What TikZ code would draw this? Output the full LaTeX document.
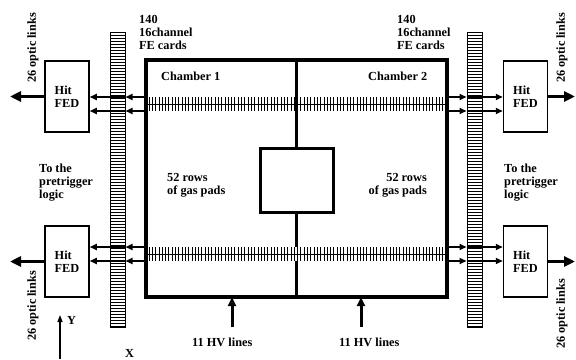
\documentclass[tikz,border=0pt]{standalone}
\usepackage{fontspec}
\setmainfont{Liberation Serif}
\usetikzlibrary{arrows.meta,positioning,calc}
\tikzset{
  lbl/.style={font=\fontsize{12.3}{13}\selectfont\bfseries, inner sep=0pt},
  fed/.style={draw, line width=1.5pt, minimum width=44pt, minimum height=71pt, lbl, align=left},
  fecard/.style={draw, line width=1pt, minimum width=15pt, minimum height=295pt, inner sep=0pt,
    path picture={\foreach \k in {1,...,98}
      \draw[line width=0.45pt] ([yshift=-\k*3pt]path picture bounding box.north west) -- ([yshift=-\k*3pt]path picture bounding box.north east);}},
  wall/.style={line width=4pt},
  link/.style={line width=1.6pt, -{Triangle[length=7pt,width=6pt]}},
  optic/.style={line width=3.5pt, -{Triangle[length=11pt,width=10pt]}},
  hv/.style={line width=3pt, -{Triangle[length=9pt,width=8pt]}},
  tick/.style={line width=0.7pt},
}
\begin{document}
\begin{tikzpicture}[x=1pt,y=-1pt]
\useasboundingbox (0,0) rectangle (576,359);
% chamber and pad plane
\node[draw, wall, minimum width=301pt, minimum height=237pt, inner sep=0pt] (ch) at (296.5,178.5) {};
\node[draw, line width=3pt, minimum width=73pt, minimum height=64pt, inner sep=0pt] (sq) at (296.5,180) {};
\coordinate (r1) at (0,97); \coordinate (r2) at (0,111);
\coordinate (r3) at (0,247); \coordinate (r4) at (0,261);
\foreach \y in {97,247}{
  \foreach \x in {149,152.3,...,446} \draw[tick] (\x,\y) -- (\x,\y+14);
  \draw[line width=1pt] (146,\y+7) -- (447,\y+7);
}
\draw[line width=3pt] (ch.north) -- (sq.north);
\draw[line width=3pt] (sq.south) -- (sq.south |- r3);
\draw[line width=3pt] (sq.south |- r4) -- (ch.south);
% front-end cards
\node[fecard] (cardL) at (117.5,179.5) {};
\node[fecard] (cardR) at (474.5,179.5) {};
% FEDs
\node[fed] (fedLU) at (67,96.5) {Hit\\FED};
\node[fed] (fedLD) at (67,261.5) {Hit\\FED};
\node[fed] (fedRU) at (525.5,96.5) {Hit\\FED};
\node[fed] (fedRD) at (525.5,261.5) {Hit\\FED};
\foreach \r/\fl/\fr in {r1/fedLU/fedRU, r2/fedLU/fedRU, r3/fedLD/fedRD, r4/fedLD/fedRD}{
  \draw[link] (ch.west |- \r) -- (cardL.east |- \r);
  \draw[link] (cardL.east |- \r) -- (\fl.east |- \r);
  \draw[link] (ch.east |- \r) -- (cardR.west |- \r);
  \draw[link] (cardR.west |- \r) -- (\fr.west |- \r);
}
% optic links
\coordinate (oLU) at (10,96.5); \coordinate (oLD) at (10,261.5);
\coordinate (oRU) at (575,96.5); \coordinate (oRD) at (575,261.5);
\draw[optic] (fedLU.west) -- (oLU);
\draw[optic] (fedLD.west) -- (oLD);
\draw[optic] (fedRU.east) -- (oRU);
\draw[optic] (fedRD.east) -- (oRD);
\foreach \x/\y/\n in {33/48/tLU, 33/306/tLD, 562/48/tRU, 562/314/tRD}
  \node[lbl, rotate=90] (\n) at (\x,\y) {26 optic links};
% HV lines
\coordinate (hv1) at (232,327); \coordinate (hv2) at (361,327);
\draw[hv] (hv1) -- ([yshift=2pt]hv1 |- ch.south);
\draw[hv] (hv2) -- ([yshift=2pt]hv2 |- ch.south);
\node[lbl, anchor=base west] (hvl1) at (192,346) {11 HV lines};
\node[lbl, anchor=base west] (hvl2) at (339,346) {11 HV lines};
% labels
\node[lbl, align=left, anchor=north west] (feL) at (139,15) {140\\16channel\\FE cards};
\node[lbl, align=left, anchor=north west] (feR) at (397,15) {140\\16channel\\FE cards};
\node[lbl, anchor=base west] (ch1) at (161,80) {Chamber 1};
\node[lbl, anchor=base west] (ch2) at (368,80) {Chamber 2};
\node[lbl, align=left, anchor=north west] (padL) at (167,173) {52 rows\\of gas pads};
\node[lbl, align=right, anchor=north east] (padR) at (427,173) {52 rows\\of gas pads};
\node[lbl, align=left, anchor=north west] (ptL) at (39,164) {To the\\pretrigger\\logic};
\node[lbl, align=left, anchor=north west] (ptR) at (504,164) {To the\\pretrigger\\logic};
% axes
\coordinate (ax) at (60,359);
\draw[line width=1.3pt, -{Triangle[length=7pt,width=5pt]}] (ax) -- (60,315);
\node[lbl, anchor=base west] (ylbl) at (67,324) {Y};
\node[lbl, anchor=base west] (xlbl) at (125,357) {X};
\end{tikzpicture}
\end{document}
